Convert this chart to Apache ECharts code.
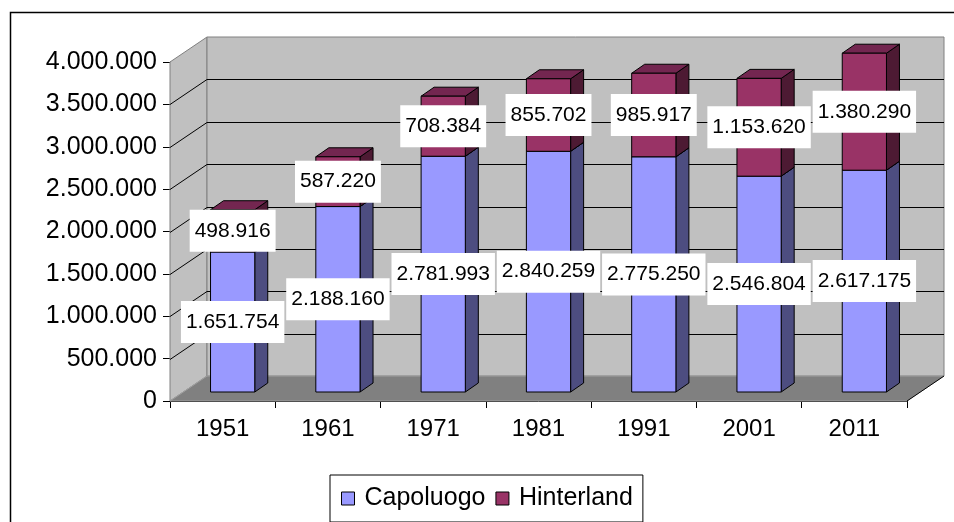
<!DOCTYPE html>
<html>
<head>
<meta charset="utf-8">
<script src="https://cdn.jsdelivr.net/npm/echarts@6/dist/echarts.min.js"></script>
<style>
html,body{margin:0;padding:0;background:#fff;}
#chart{width:954px;height:522px;}
</style>
</head>
<body>
<div id="chart"></div>
<script>
// ---- data ----
const years = ['1951', '1961', '1971', '1981', '1991', '2001', '2011'];
const capoluogo = [1651754, 2188160, 2781993, 2840259, 2775250, 2546804, 2617175];
const hinterland = [498916, 587220, 708384, 855702, 985917, 1153620, 1380290];
const yTicks = [0, 500000, 1000000, 1500000, 2000000, 2500000, 3000000, 3500000, 4000000];
const seriesNames = ['Capoluogo', 'Hinterland'];

// ---- helpers ----
const FONT = '"Liberation Sans", Arial, sans-serif';
function fmt(v) { return String(v).replace(/\B(?=(\d{3})+(?!\d))/g, '.'); }

const DEPTH = [37, -25];      // wall depth offset
const BAR_FRONT = [10, -9];   // bar front plane offset
const BAR_DEPTH = [13, -9];   // bar thickness offset

const palette = {
  Capoluogo: { front: '#9999ff', side: '#4d4d80', top: '#7373c0' },
  Hinterland: { front: '#993366', side: '#4d1a33', top: '#732650' }
};

function wallsRender(params, api) {
  const cs = params.coordSys;
  const x0 = cs.x, x1 = cs.x + cs.width;
  const yB = api.coord([0, yTicks[0]])[1];
  const yT = api.coord([0, yTicks[yTicks.length - 1]])[1];
  const dx = DEPTH[0], dy = DEPTH[1];
  const children = [];
  children.push({ type: 'polygon', shape: { points: [[x0, yB], [x0, yT], [x0 + dx, yT + dy], [x0 + dx, yB + dy]] },
    style: { fill: '#c0c0c0', stroke: '#808080', lineWidth: 1 } });
  children.push({ type: 'rect', shape: { x: x0 + dx, y: yT + dy, width: x1 - x0, height: yB - yT },
    style: { fill: '#c0c0c0', stroke: '#808080', lineWidth: 1 } });
  for (let k = 1; k < yTicks.length - 1; k++) {
    const y = Math.round(api.coord([0, yTicks[k]])[1]) + 0.5;
    children.push({ type: 'polyline', shape: { points: [[x0, y], [x0 + dx, y + dy], [x1 + dx, y + dy]] },
      style: { stroke: '#000', lineWidth: 1, fill: null } });
  }
  children.push({ type: 'polygon', shape: { points: [[x0, yB], [x1, yB], [x1 + dx, yB + dy], [x0 + dx, yB + dy]] },
    style: { fill: '#808080', stroke: '#a0a0a0', lineWidth: 1 } });
  children.push({ type: 'line', shape: { x1: x1, y1: yB, x2: x1 + dx, y2: yB + dy },
    style: { stroke: '#000', lineWidth: 1 } });
  return { type: 'group', children: children };
}

function makeBarRender(name) {
  const c = palette[name];
  return function (params, api) {
    const i = api.value(0), base = api.value(1), v = api.value(2);
    const p0 = api.coord([i, base]);
    const p1 = api.coord([i, base + v]);
    const bw = api.size([1, 0])[0] * 0.42;
    const xl = p0[0] + BAR_FRONT[0] - bw / 2, xr = xl + bw;
    const yb = p0[1] + BAR_FRONT[1], yt = p1[1] + BAR_FRONT[1];
    const dx = BAR_DEPTH[0], dy = BAR_DEPTH[1];
    const st = { stroke: '#000', lineWidth: 1 };
    return { type: 'group', children: [
      { type: 'polygon', shape: { points: [[xr, yb], [xr, yt], [xr + dx, yt + dy], [xr + dx, yb + dy]] },
        style: Object.assign({ fill: c.side }, st) },
      { type: 'polygon', shape: { points: [[xl, yt], [xr, yt], [xr + dx, yt + dy], [xl + dx, yt + dy]] },
        style: Object.assign({ fill: c.top }, st) },
      { type: 'rect', shape: { x: xl, y: yt, width: bw, height: yb - yt },
        style: Object.assign({ fill: c.front }, st) }
    ] };
  };
}

function labelRender(params, api) {
  const i = api.value(0), base = api.value(1), v = api.value(2);
  const p0 = api.coord([i, base]);
  const p1 = api.coord([i, base + v]);
  const x = p0[0] + BAR_FRONT[0];
  const y = (p0[1] + p1[1]) / 2 + BAR_FRONT[1];
  return { type: 'text', x: x, y: y, style: {
    text: fmt(v), fill: '#000', fontSize: 21, fontFamily: FONT,
    align: 'center', verticalAlign: 'middle',
    backgroundColor: '#fff', padding: [11, 5, 10, 5]
  } };
}

const capData = years.map((y, i) => [i, 0, capoluogo[i]]);
const hinData = years.map((y, i) => [i, capoluogo[i], hinterland[i]]);

const chart = echarts.init(document.getElementById('chart'), null, { renderer: 'canvas' });
chart.setOption({
  backgroundColor: '#fff',
  animation: false,
  graphic: [{ type: 'rect', left: 8, top: 10, shape: { width: 1000, height: 600 },
    style: { fill: null, stroke: '#000', lineWidth: 1.5 }, z: 0 }],
  legend: {
    data: seriesNames, left: 330, top: 475,
    padding: [11, 10, 11, 11], borderColor: '#000', borderWidth: 1,
    itemWidth: 13, itemHeight: 13, itemGap: 10, icon: 'rect',
    itemStyle: { borderColor: '#000', borderWidth: 1 },
    textStyle: { fontSize: 25, color: '#000', fontFamily: FONT, padding: [0, 0, 0, 5] }
  },
  grid: { left: 170, top: 62, width: 737, height: 339 },
  xAxis: {
    type: 'category', data: years, boundaryGap: true,
    axisLine: { lineStyle: { color: '#000', width: 1 } },
    axisTick: { show: true, length: 7, interval: 0, lineStyle: { color: '#000' } },
    axisLabel: { fontSize: 24, color: '#000', fontFamily: FONT, margin: 16 },
    splitLine: { show: false }
  },
  yAxis: {
    type: 'value', min: yTicks[0], max: yTicks[yTicks.length - 1], interval: 500000,
    axisLine: { show: true, lineStyle: { color: '#000', width: 1 } },
    axisTick: { show: true, length: 7, lineStyle: { color: '#000' } },
    axisLabel: { fontSize: 25, color: '#000', fontFamily: FONT, margin: 13, formatter: v => fmt(v) },
    splitLine: { show: false }
  },
  series: [
    { type: 'custom', name: '_walls', renderItem: wallsRender, data: [[0, 0, 0]], z: 1, silent: true,
      encode: { x: 0, y: 2 } },
    { type: 'custom', name: 'Capoluogo', renderItem: makeBarRender('Capoluogo'), data: capData, z: 3,
      itemStyle: { color: palette.Capoluogo.front }, encode: { x: 0, y: 2 } },
    { type: 'custom', name: 'Hinterland', renderItem: makeBarRender('Hinterland'), data: hinData, z: 4,
      itemStyle: { color: palette.Hinterland.front }, encode: { x: 0, y: 2 } },
    { type: 'custom', name: '_labels', renderItem: labelRender, data: capData.concat(hinData), z: 10, silent: true,
      encode: { x: 0, y: 2 } }
  ]
});
</script>
</body>
</html>
